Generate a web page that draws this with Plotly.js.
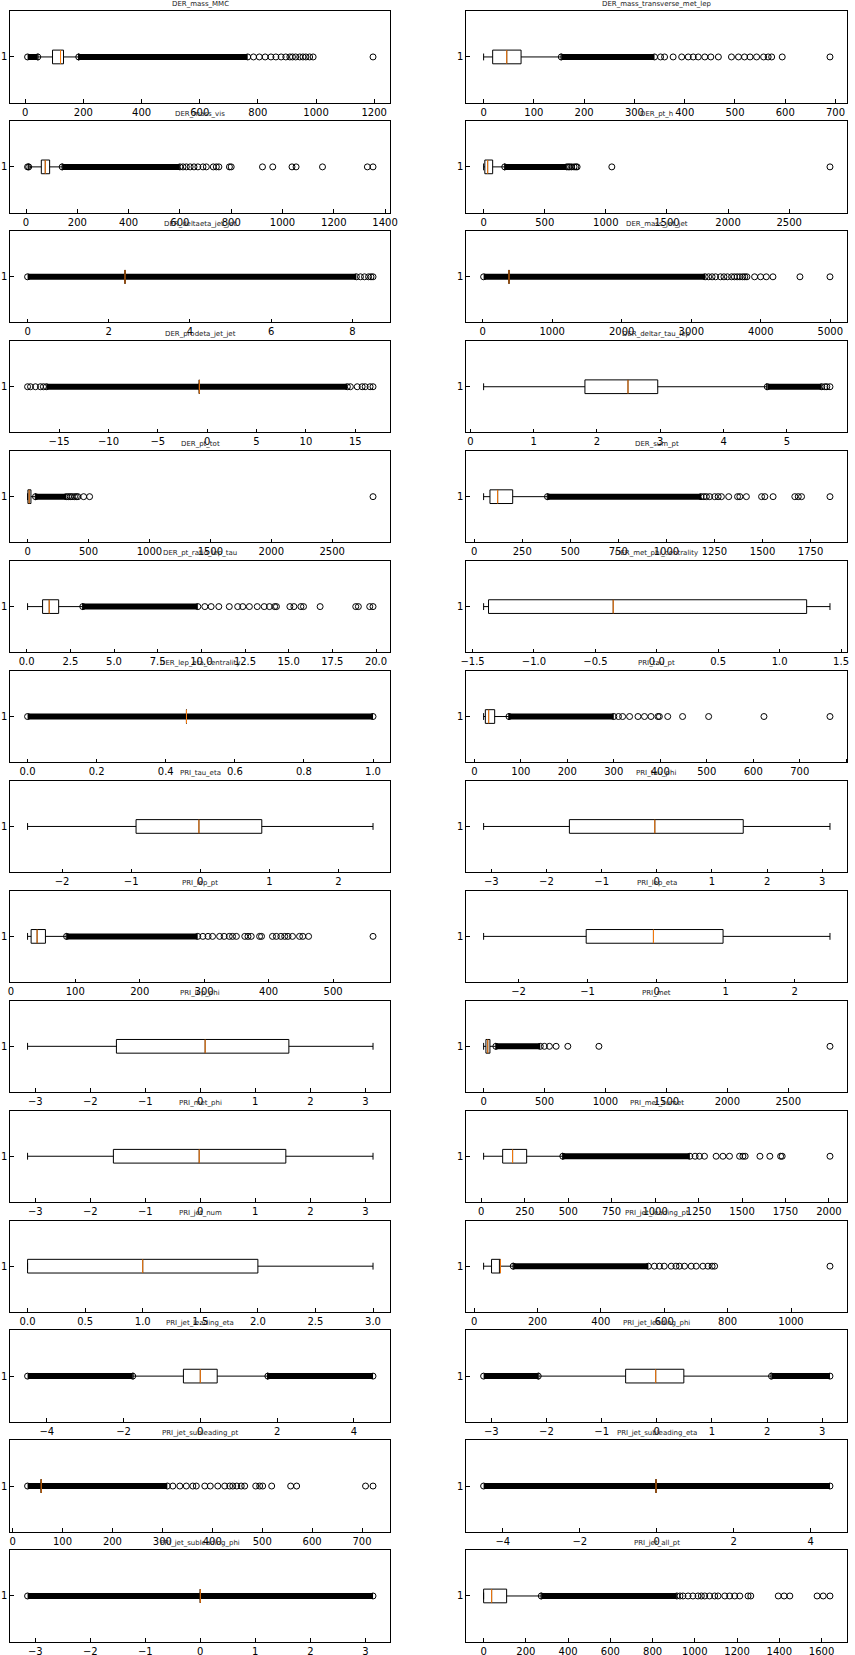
<!DOCTYPE html>
<html><head><meta charset="utf-8">
<script src="https://cdn.plot.ly/plotly-3.0.1.min.js"></script>
<style>html,body{margin:0;padding:0;background:#fff;} #chart{width:855px;height:1655px;}</style>
</head><body><div id="chart"></div>
<script>
// ---- data (panel order: row by row, left then right) ----
const titles = [
 "DER_mass_MMC","DER_mass_transverse_met_lep",
 "DER_mass_vis","DER_pt_h",
 "DER_deltaeta_jet_jet","DER_mass_jet_jet",
 "DER_prodeta_jet_jet","DER_deltar_tau_lep",
 "DER_pt_tot","DER_sum_pt",
 "DER_pt_ratio_lep_tau","DER_met_phi_centrality",
 "DER_lep_eta_centrality","PRI_tau_pt",
 "PRI_tau_eta","PRI_tau_phi",
 "PRI_lep_pt","PRI_lep_eta",
 "PRI_lep_phi","PRI_met",
 "PRI_met_phi","PRI_met_sumet",
 "PRI_jet_num","PRI_jet_leading_pt",
 "PRI_jet_leading_eta","PRI_jet_leading_phi",
 "PRI_jet_subleading_pt","PRI_jet_subleading_eta",
 "PRI_jet_subleading_phi","PRI_jet_all_pt"
];
const whiskerLow = [44,0, 11,0, 2.4,379, -0.8,0.21, 0,48.7, 0.05,-1.41, 0.46,20, -2.5,-3.14, 26,-2.505, -3.14,0.1, -3.14,13.4, 0,30, -1.75,-2.14, 57.3,-0.02, 0,0];
const quart1 = [93.8,18, 59.6,10, 2.4,379, -0.8,1.81, 2.8,81.7, 0.91,-1.37, 0.46,23.7, -0.93,-1.585, 31.5,-1.02, -1.525,19, -1.58,123, 0,55, -0.44,-0.565, 57.3,-0.02, 0,0];
const medians = [121.3,46, 75,33, 2.4,379, -0.8,2.49, 13,121.7, 1.29,-0.355, 0.46,30.8, -0.02,-0.036, 40.8,-0.046, 0.088,34, -0.02,180, 1,83, 0,-0.02, 57.3,-0.02, 0,38];
const quart3 = [131.6,74.5, 92,74, 2.4,379, -0.8,2.96, 27.6,200, 1.83,1.22, 0.46,43.8, 0.89,1.567, 53.7,0.962, 1.61,52, 1.555,261, 2,83, 0.44,0.49, 57.3,-0.02, 0,109];
const whiskerHigh = [183,154, 140.6,172, 2.4,379, -0.8,4.68, 64,380, 3.2,1.41, 0.46,74, 2.5,3.14, 86,2.51, 3.14,100, 3.14,468, 3,123, 1.75,2.07, 57.3,-0.02, 0,272];
// dense (overlapping) flier stretches [from, to]
const denseBands = [
 [[8,43],[184,765]], [[154.5,340]],
 [[6,10.5],[141,600]], [[173,680]],
 [[0,8.1]], [[14,3200]],
 [[-16.3,14.2]], [[4.69,5.55]],
 [[65,318]], [[381,1180]],
 [[3.21,9.8]], [],
 [[0,1]], [[74.5,300]],
 [], [],
 [[86.5,290]], [],
 [], [[100.5,465]],
 [], [[469,1200]],
 [], [[123.5,550]],
 [[-4.5,-1.76],[1.76,4.5]], [[-3.14,-2.15],[2.08,3.14]],
 [[30,310]], [[-4.5,4.5]],
 [[-3.14,3.14]], [[273,915]]
];
// isolated fliers
const sparseFliers = [
 [785,805,825,845,862,880,896,910,919,930,944,955,965,978,990,1196],
 [352,360,377,394,407,417,427,440,452,467,493,507,519,530,543,557,566,573,594,689],
 [612,625,640,655,670,690,703,730,742,752,793,800,922,962,1037,1053,1156,1331,1353],
 [693,705,720,740,755,765,1049,2834],
 [8.2,8.3,8.4,8.46,8.51],
 [3250,3300,3350,3420,3470,3520,3580,3620,3660,3700,3740,3770,3800,3911,3997,4079,4175,4563,4995],
 [-18.2,-17.9,-17.4,-16.9,-16.6,14.5,15.2,15.7,16.0,16.5,16.8],
 [5.6,5.63,5.68],
 [335,350,365,385,400,413,460,509,2835],
 [1195,1208,1225,1251,1269,1286,1324,1370,1382,1416,1495,1512,1555,1668,1686,1703,1851],
 [10.2,10.56,11.0,11.6,12.08,12.37,12.75,13.2,13.6,13.9,14.2,14.3,15.07,15.3,15.7,15.85,16.8,18.84,18.99,19.64,19.83],
 [],
 [],
 [310,319,334,352,366,380,395,398,416,448,504,623,765],
 [], [],
 [298,306,313,324,331,339,344,350,363,368,373,386,389,406,412,419,425,430,437,448,453,462,562],
 [],
 [],
 [499,540,595,691,946,2842],
 [],
 [1230,1255,1284,1351,1390,1428,1486,1505,1518,1603,1660,1722,1731,2006],
 [],
 [569,585,600,622,637,648,664,685,701,722,738,751,759,1123],
 [], [],
 [321,335,348,361,368,385,396,411,425,435,441,449,458,465,487,495,501,519,557,569,707,722],
 [],
 [],
 [930,944,968,991,1015,1031,1047,1070,1094,1110,1142,1165,1189,1213,1252,1265,1395,1423,1450,1579,1608,1640]
];
const tickLabels = [
 ["0","200","400","600","800","1000","1200"],
 ["0","100","200","300","400","500","600","700"],
 ["0","200","400","600","800","1000","1200","1400"],
 ["0","500","1000","1500","2000","2500"],
 ["0","2","4","6","8"],
 ["0","1000","2000","3000","4000","5000"],
 ["−15","−10","−5","0","5","10","15"],
 ["0","1","2","3","4","5"],
 ["0","500","1000","1500","2000","2500"],
 ["0","250","500","750","1000","1250","1500","1750"],
 ["0.0","2.5","5.0","7.5","10.0","12.5","15.0","17.5","20.0"],
 ["−1.5","−1.0","−0.5","0.0","0.5","1.0","1.5"],
 ["0.0","0.2","0.4","0.6","0.8","1.0"],
 ["0","100","200","300","400","500","600","700","800"],
 ["−2","−1","0","1","2"],
 ["−3","−2","−1","0","1","2","3"],
 ["0","100","200","300","400","500"],
 ["−2","−1","0","1","2"],
 ["−3","−2","−1","0","1","2","3"],
 ["0","500","1000","1500","2000","2500"],
 ["−3","−2","−1","0","1","2","3"],
 ["0","250","500","750","1000","1250","1500","1750","2000"],
 ["0.0","0.5","1.0","1.5","2.0","2.5","3.0"],
 ["0","200","400","600","800","1000"],
 ["−4","−2","0","2","4"],
 ["−3","−2","−1","0","1","2","3"],
 ["0","100","200","300","400","500","600","700"],
 ["−4","−2","0","2","4"],
 ["−3","−2","−1","0","1","2","3"],
 ["0","200","400","600","800","1000","1200","1400","1600"]
];
const boxPosition = [1];
const positionLabel = ["1"];

// ---- layout geometry (pixels) ----
const W = 855, H = 1655;
const colX = [[10.3, 390.3], [466.3, 847.3]];
const rowTop0 = 11.3, rowStep = 109.93, axH = 91.3;
const BOXW = 0.15;
const FONT = "DejaVu Sans, sans-serif";

const traces = [];
const layout = {
  width: W, height: H, margin: {l:0, r:0, t:0, b:0},
  paper_bgcolor: "#fff", plot_bgcolor: "#fff",
  showlegend: false, annotations: []
};

for (let i = 0; i < titles.length; i++) {
  const r = Math.floor(i / 2), c = i % 2;
  const sfx = i === 0 ? "" : String(i + 1);
  const xa = "x" + sfx, ya = "y" + sfx;
  const top = rowTop0 + r * rowStep, bot = top + axH;
  const [x0, x1] = colX[c];

  // data extent -> matplotlib-like 5% margins
  let vals = [whiskerLow[i], whiskerHigh[i], quart1[i], quart3[i]];
  denseBands[i].forEach(b => vals.push(b[0], b[1]));
  vals = vals.concat(sparseFliers[i]);
  const mn = Math.min(...vals), mx = Math.max(...vals);
  const pad = 0.05 * (mx - mn);

  const tv = tickLabels[i].map(s => parseFloat(s.replace("−", "-")));

  const axCommon = {
    showline: true, linecolor: "#000", linewidth: 1, mirror: true,
    ticks: "inside", ticklen: 3.5, tickwidth: 1, tickcolor: "#000",
    showgrid: false, zeroline: false, fixedrange: true,
    tickfont: {family: FONT, size: 10, color: "#000"}
  };
  layout["xaxis" + sfx] = Object.assign({}, axCommon, {
    domain: [x0 / W, x1 / W], anchor: ya,
    range: [mn - pad, mx + pad],
    tickmode: "array", tickvals: tv, ticktext: tickLabels[i]
  });
  layout["yaxis" + sfx] = Object.assign({}, axCommon, {
    domain: [1 - bot / H, 1 - top / H], anchor: xa,
    range: [0.5, 1.5],
    tickmode: "array", tickvals: boxPosition, ticktext: positionLabel
  });

  // box
  traces.push({
    type: "box", orientation: "h", y: boxPosition,
    q1: [quart1[i]], median: [medians[i]], q3: [quart3[i]],
    lowerfence: [whiskerLow[i]], upperfence: [whiskerHigh[i]],
    width: BOXW, whiskerwidth: 0.5, boxpoints: false,
    line: {color: "#000", width: 1}, fillcolor: "rgba(255,255,255,0)",
    xaxis: xa, yaxis: ya, hoverinfo: "skip"
  });

  // dense flier stretches
  if (denseBands[i].length) {
    const bx = [], by = [];
    denseBands[i].forEach((b, k) => {
      if (k) { bx.push(null); by.push(null); }
      bx.push(b[0], b[1]); by.push(boxPosition[0], boxPosition[0]);
    });
    traces.push({
      type: "scatter", mode: "lines+markers", x: bx, y: by,
      line: {color: "#000", width: 6},
      marker: {symbol: "circle-open", size: 6, color: "#000", line: {width: 1, color: "#000"}},
      xaxis: xa, yaxis: ya, hoverinfo: "skip", cliponaxis: true
    });
  }
  // isolated fliers
  if (sparseFliers[i].length) {
    traces.push({
      type: "scatter", mode: "markers", x: sparseFliers[i],
      y: sparseFliers[i].map(() => boxPosition[0]),
      marker: {symbol: "circle-open", size: 6, color: "#000", line: {width: 1, color: "#000"}},
      xaxis: xa, yaxis: ya, hoverinfo: "skip"
    });
  }
  // median (orange)
  traces.push({
    type: "scatter", mode: "lines",
    x: [medians[i], medians[i]],
    y: [boxPosition[0] - BOXW / 2, boxPosition[0] + BOXW / 2],
    line: {color: "#ff7f0e", width: 1},
    xaxis: xa, yaxis: ya, hoverinfo: "skip"
  });

  // subplot title
  layout.annotations.push({
    text: titles[i], xref: "paper", yref: "paper",
    x: ((x0 + x1) / 2) / W, y: 1 - (top - 7.5) / H,
    xanchor: "center", yanchor: "middle", showarrow: false,
    font: {family: FONT, size: 7, color: "#222"}
  });
}

Plotly.newPlot("chart", traces, layout, {displayModeBar: false, staticPlot: true});
</script>
</body></html>
